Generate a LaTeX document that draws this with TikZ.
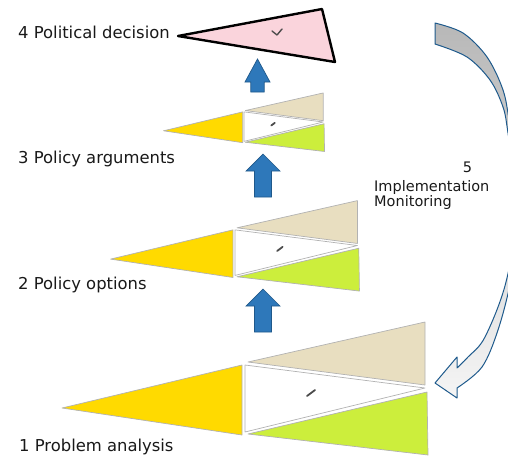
\documentclass[tikz,border=0pt]{standalone}
\usepackage{fontspec}
\setmainfont{DejaVu Sans}
\definecolor{yelc}{RGB}{255,218,0}
\definecolor{beigec}{RGB}{232,222,192}
\definecolor{greenc}{RGB}{204,238,60}
\definecolor{pinkc}{RGB}{250,212,220}
\definecolor{arrowblue}{RGB}{46,120,186}
\definecolor{arrowedge}{RGB}{31,88,138}
\definecolor{curveedge}{RGB}{30,90,140}
\begin{document}
\begin{tikzpicture}[x=1pt,y=-1pt,
  lbl/.style={anchor=base west, inner sep=0pt, font=\fontsize{16.4}{19}\selectfont, text=black!90},
  lblfive/.style={anchor=base west, inner sep=0pt, font=\fontsize{14.5}{17}\selectfont, text=black!90},
  tri/.style={draw=black!30, line width=0.7pt, line join=round},
  blockarrow/.style={fill=arrowblue, draw=arrowedge, line width=0.7pt, line join=miter},
  markstroke/.style={draw=black!70, line width=1.8pt, line cap=round},
  wedgegroup/.pic={
    \path[tri, fill=yelc] (-183,20) -- (-3,-23) -- (-3,47) -- cycle;
    \path[tri, fill=white] (0,-23) -- (180,0) -- (0,44) -- cycle;
    \path[tri, fill=beigec] (3,-26) -- (180,-66) -- (180,-3) -- cycle;
    \path[tri, fill=greenc] (3,46) -- (182,4) -- (183,67) -- cycle;
    \path[markstroke] (62,8) -- (70,2);
  }
]
\useasboundingbox (0,0) rectangle (508,464);

% level groups
\pic (lvA) at (245,388) {wedgegroup};
\pic[scale=0.68] (lvB) at (235,245.5) {wedgegroup};
\pic[scale=0.44] (lvC) at (244,122) {wedgegroup};

% political decision triangle
\path[draw=black, line width=2.4pt, fill=pinkc, line join=round] (178,36) -- (322,9) -- (335,62) -- cycle;
\path[draw=black!70, line width=1.4pt, line cap=round, line join=round] (272,31) -- (277,35) -- (282,29);

% blue up arrows
\path[blockarrow] (257.5,59) -- (270,82) -- (264.2,82) -- (264.2,92) -- (250.8,92) -- (250.8,82) -- (245,82) -- cycle;
\path[blockarrow] (263,154) -- (280,171) -- (271.5,171) -- (271.5,197) -- (254.5,197) -- (254.5,171) -- (246,171) -- cycle;
\path[blockarrow] (263,289) -- (280,306) -- (271.5,306) -- (271.5,332) -- (254.5,332) -- (254.5,306) -- (246,306) -- cycle;

% curved arrow
\begin{scope}
\clip (0,0) rectangle (508,464);
\path[draw=curveedge, line width=1pt, top color=black!28, bottom color=black!4, line join=round]
 (435,23) -- plot[smooth, tension=0.55] coordinates {(435,23) (463,33) (487,57) (503,90) (510,125) (524,205) (511,280) (498,330) (482,367) (457,388)}
 -- (457,398) -- (435,383) -- (457,357) -- (457,368)
 -- plot[smooth, tension=0.55] coordinates {(457,368) (468,357) (485,337) (506,282) (518,205) (508,133) (503,107) (490,80) (467,57) (435,44)}
 -- cycle;
\end{scope}

% labels
\node[lbl] (l4) at (18,38) {4 Political decision};
\node[lbl] (l3) at (18,163) {3 Policy arguments};
\node[lbl] (l2) at (18,289) {2 Policy options};
\node[lbl] (l1) at (19,451) {1 Problem analysis};
\node[lblfive, anchor=base] (l5a) at (467.5,172) {5};
\node[lblfive] (l5b) at (374,191) {Implementation};
\node[lblfive] (l5c) at (374,206) {Monitoring};
\end{tikzpicture}
\end{document}
